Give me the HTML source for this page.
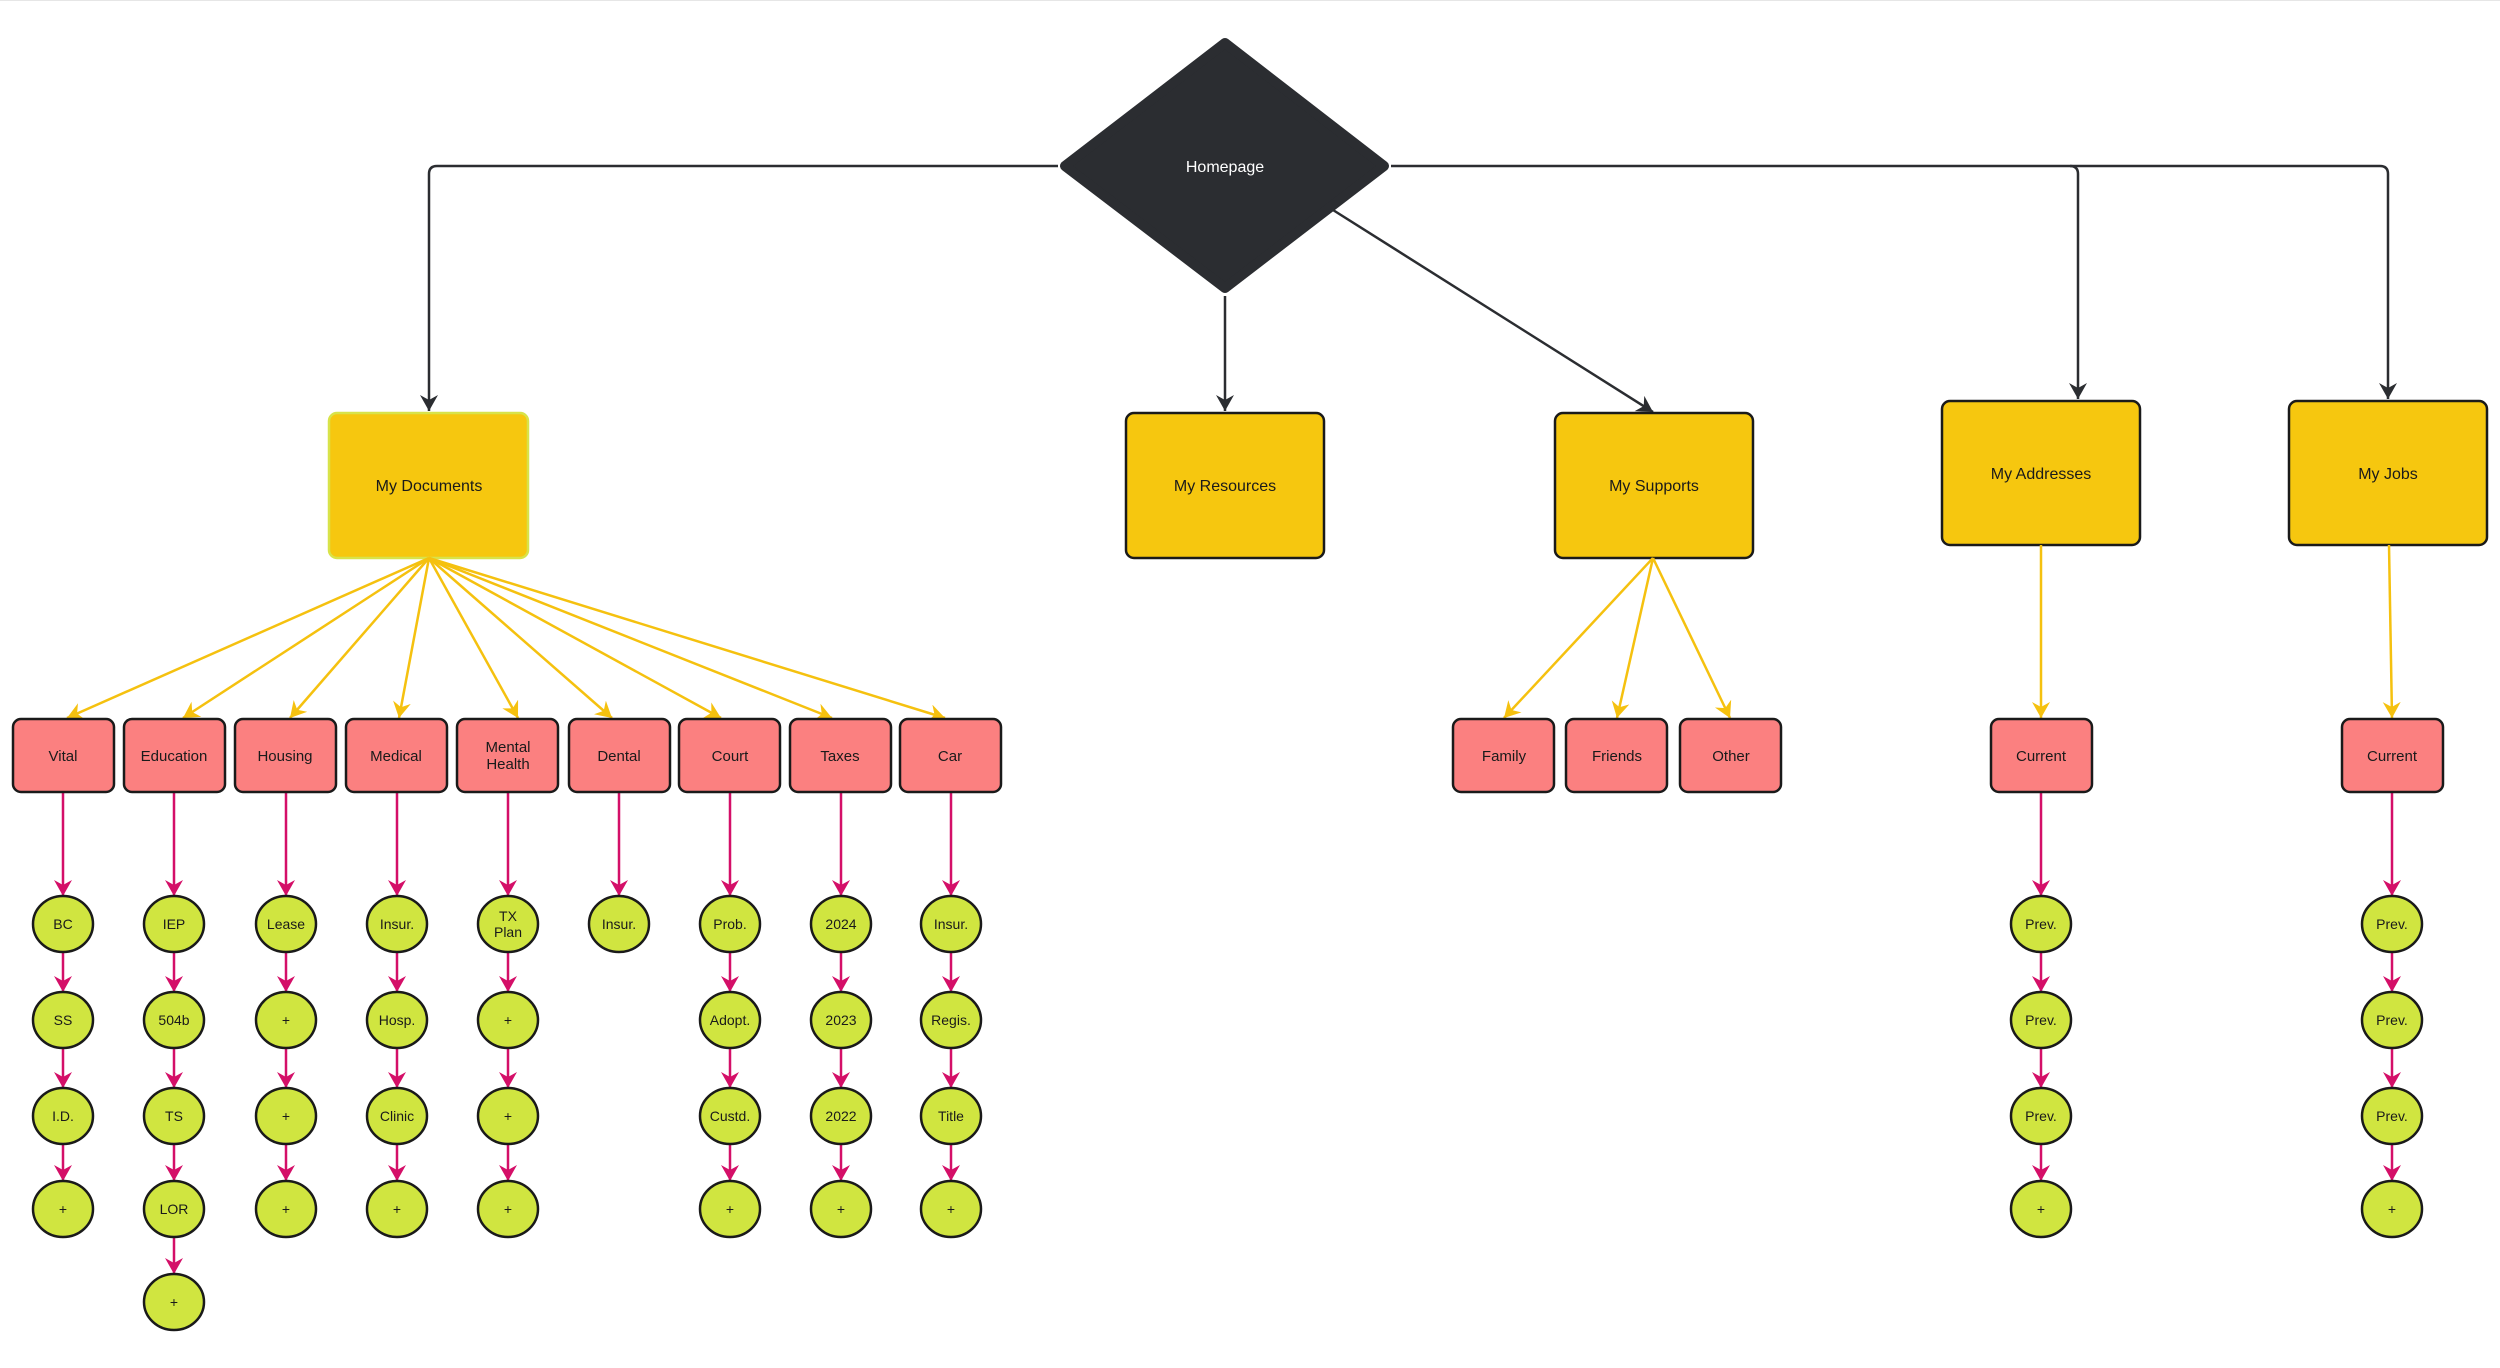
<!DOCTYPE html>
<html><head><meta charset="utf-8"><style>
html,body{margin:0;padding:0;background:#fff;}
svg{display:block;font-family:"Liberation Sans",Arial,sans-serif;}
</style></head><body>
<svg width="2500" height="1368" viewBox="0 0 2500 1368" xmlns="http://www.w3.org/2000/svg">
<defs>
<marker id="ak" markerUnits="userSpaceOnUse" markerWidth="20" markerHeight="20" refX="16" refY="9" orient="auto"><path d="M16,9 L0,0 L5,9 L0,18 Z" fill="#2b2d31"/></marker>
<marker id="ay" markerUnits="userSpaceOnUse" markerWidth="20" markerHeight="20" refX="16" refY="9" orient="auto"><path d="M16,9 L0,0 L5,9 L0,18 Z" fill="#f5c10f"/></marker>
<marker id="ap" markerUnits="userSpaceOnUse" markerWidth="20" markerHeight="20" refX="16" refY="9" orient="auto"><path d="M16,9 L0,0 L5,9 L0,18 Z" fill="#d40f68"/></marker>
</defs>
<line x1="0" y1="0.5" x2="2500" y2="0.5" stroke="#e6e6e6" stroke-width="1"/>
<!-- black connectors -->
<g fill="none" stroke="#2b2d31" stroke-width="2.5">
<path d="M1058,166 L437,166 Q429,166 429,174 L429,411" marker-end="url(#ak)"/>
<path d="M1225,296 L1225,411" marker-end="url(#ak)"/>
<path d="M1333,210 L1653,412" marker-end="url(#ak)"/>
<path d="M1391,166 L2070,166 Q2078,166 2078,174 L2078,399" marker-end="url(#ak)"/>
<path d="M2070,166 L2380,166 Q2388,166 2388,174 L2388,399" marker-end="url(#ak)"/>
</g>
<!-- diamond -->
<polygon points="1225,43 1384,166 1225,288 1065,166" fill="#2b2d31" stroke="#2b2d31" stroke-width="10" stroke-linejoin="round"/>
<text x="1225" y="172" fill="#fff" font-size="16" text-anchor="middle">Homepage</text>
<!-- yellow boxes -->
<g stroke-width="2.5">
<rect x="329" y="413" width="199" height="145" rx="8" fill="#f6c70f" stroke="#d8e34a"/>
<rect x="1126" y="413" width="198" height="145" rx="8" fill="#f6c70f" stroke="#1a1a1a"/>
<rect x="1555" y="413" width="198" height="145" rx="8" fill="#f6c70f" stroke="#1a1a1a"/>
<rect x="1942" y="401" width="198" height="144" rx="8" fill="#f6c70f" stroke="#1a1a1a"/>
<rect x="2289" y="401" width="198" height="144" rx="8" fill="#f6c70f" stroke="#1a1a1a"/>
</g>
<g font-size="16" fill="#1a1a1a" text-anchor="middle">
<text x="429" y="491">My Documents</text>
<text x="1225" y="491">My Resources</text>
<text x="1654" y="491">My Supports</text>
<text x="2041" y="479">My Addresses</text>
<text x="2388" y="479">My Jobs</text>
</g>
<!-- yellow connectors -->
<g stroke="#f5c10f" stroke-width="2.5" fill="none">
<line x1="429" y1="558" x2="67" y2="718" marker-end="url(#ay)"/>
<line x1="429" y1="558" x2="183" y2="718" marker-end="url(#ay)"/>
<line x1="429" y1="558" x2="290" y2="718" marker-end="url(#ay)"/>
<line x1="429" y1="558" x2="399" y2="718" marker-end="url(#ay)"/>
<line x1="429" y1="558" x2="518" y2="718" marker-end="url(#ay)"/>
<line x1="429" y1="558" x2="612" y2="718" marker-end="url(#ay)"/>
<line x1="429" y1="558" x2="721" y2="718" marker-end="url(#ay)"/>
<line x1="429" y1="558" x2="832" y2="718" marker-end="url(#ay)"/>
<line x1="429" y1="558" x2="945" y2="718" marker-end="url(#ay)"/>
<line x1="1653" y1="558" x2="1504" y2="718" marker-end="url(#ay)"/>
<line x1="1653" y1="558" x2="1617" y2="718" marker-end="url(#ay)"/>
<line x1="1653" y1="558" x2="1730" y2="718" marker-end="url(#ay)"/>
<line x1="2041" y1="545" x2="2041" y2="718" marker-end="url(#ay)"/>
<line x1="2389" y1="545" x2="2392" y2="718" marker-end="url(#ay)"/>
</g>
<!-- pink connectors -->
<g stroke="#d40f68" stroke-width="2.5" fill="none">
<line x1="63" y1="792" x2="63" y2="896" marker-end="url(#ap)"/>
<line x1="63" y1="952" x2="63" y2="992" marker-end="url(#ap)"/>
<line x1="63" y1="1048" x2="63" y2="1088" marker-end="url(#ap)"/>
<line x1="63" y1="1144" x2="63" y2="1181" marker-end="url(#ap)"/>
<line x1="174" y1="792" x2="174" y2="896" marker-end="url(#ap)"/>
<line x1="174" y1="952" x2="174" y2="992" marker-end="url(#ap)"/>
<line x1="174" y1="1048" x2="174" y2="1088" marker-end="url(#ap)"/>
<line x1="174" y1="1144" x2="174" y2="1181" marker-end="url(#ap)"/>
<line x1="174" y1="1237" x2="174" y2="1274" marker-end="url(#ap)"/>
<line x1="286" y1="792" x2="286" y2="896" marker-end="url(#ap)"/>
<line x1="286" y1="952" x2="286" y2="992" marker-end="url(#ap)"/>
<line x1="286" y1="1048" x2="286" y2="1088" marker-end="url(#ap)"/>
<line x1="286" y1="1144" x2="286" y2="1181" marker-end="url(#ap)"/>
<line x1="397" y1="792" x2="397" y2="896" marker-end="url(#ap)"/>
<line x1="397" y1="952" x2="397" y2="992" marker-end="url(#ap)"/>
<line x1="397" y1="1048" x2="397" y2="1088" marker-end="url(#ap)"/>
<line x1="397" y1="1144" x2="397" y2="1181" marker-end="url(#ap)"/>
<line x1="508" y1="792" x2="508" y2="896" marker-end="url(#ap)"/>
<line x1="508" y1="952" x2="508" y2="992" marker-end="url(#ap)"/>
<line x1="508" y1="1048" x2="508" y2="1088" marker-end="url(#ap)"/>
<line x1="508" y1="1144" x2="508" y2="1181" marker-end="url(#ap)"/>
<line x1="619" y1="792" x2="619" y2="896" marker-end="url(#ap)"/>
<line x1="730" y1="792" x2="730" y2="896" marker-end="url(#ap)"/>
<line x1="730" y1="952" x2="730" y2="992" marker-end="url(#ap)"/>
<line x1="730" y1="1048" x2="730" y2="1088" marker-end="url(#ap)"/>
<line x1="730" y1="1144" x2="730" y2="1181" marker-end="url(#ap)"/>
<line x1="841" y1="792" x2="841" y2="896" marker-end="url(#ap)"/>
<line x1="841" y1="952" x2="841" y2="992" marker-end="url(#ap)"/>
<line x1="841" y1="1048" x2="841" y2="1088" marker-end="url(#ap)"/>
<line x1="841" y1="1144" x2="841" y2="1181" marker-end="url(#ap)"/>
<line x1="951" y1="792" x2="951" y2="896" marker-end="url(#ap)"/>
<line x1="951" y1="952" x2="951" y2="992" marker-end="url(#ap)"/>
<line x1="951" y1="1048" x2="951" y2="1088" marker-end="url(#ap)"/>
<line x1="951" y1="1144" x2="951" y2="1181" marker-end="url(#ap)"/>
<line x1="2041" y1="792" x2="2041" y2="896" marker-end="url(#ap)"/>
<line x1="2041" y1="952" x2="2041" y2="992" marker-end="url(#ap)"/>
<line x1="2041" y1="1048" x2="2041" y2="1088" marker-end="url(#ap)"/>
<line x1="2041" y1="1144" x2="2041" y2="1181" marker-end="url(#ap)"/>
<line x1="2392" y1="792" x2="2392" y2="896" marker-end="url(#ap)"/>
<line x1="2392" y1="952" x2="2392" y2="992" marker-end="url(#ap)"/>
<line x1="2392" y1="1048" x2="2392" y2="1088" marker-end="url(#ap)"/>
<line x1="2392" y1="1144" x2="2392" y2="1181" marker-end="url(#ap)"/>
</g>
<!-- pink boxes -->
<g fill="#fb8080" stroke="#1a1a1a" stroke-width="2.5">
<rect x="13" y="719" width="101" height="73" rx="8"/>
<rect x="124" y="719" width="101" height="73" rx="8"/>
<rect x="235" y="719" width="101" height="73" rx="8"/>
<rect x="346" y="719" width="101" height="73" rx="8"/>
<rect x="457" y="719" width="101" height="73" rx="8"/>
<rect x="569" y="719" width="101" height="73" rx="8"/>
<rect x="679" y="719" width="101" height="73" rx="8"/>
<rect x="790" y="719" width="101" height="73" rx="8"/>
<rect x="900" y="719" width="101" height="73" rx="8"/>
<rect x="1453" y="719" width="101" height="73" rx="8"/>
<rect x="1566" y="719" width="101" height="73" rx="8"/>
<rect x="1680" y="719" width="101" height="73" rx="8"/>
<rect x="1991" y="719" width="101" height="73" rx="8"/>
<rect x="2342" y="719" width="101" height="73" rx="8"/>
</g>
<g font-size="15" fill="#1a1a1a" text-anchor="middle">
<text x="63" y="761">Vital</text>
<text x="174" y="761">Education</text>
<text x="285" y="761">Housing</text>
<text x="396" y="761">Medical</text>
<text x="508" y="752">Mental</text>
<text x="508" y="769">Health</text>
<text x="619" y="761">Dental</text>
<text x="730" y="761">Court</text>
<text x="840" y="761">Taxes</text>
<text x="950" y="761">Car</text>
<text x="1504" y="761">Family</text>
<text x="1617" y="761">Friends</text>
<text x="1731" y="761">Other</text>
<text x="2041" y="761">Current</text>
<text x="2392" y="761">Current</text>
</g>
<!-- circles -->
<g fill="#d0e540" stroke="#1a1a1a" stroke-width="2.5">
<ellipse cx="63" cy="924" rx="30" ry="28"/><ellipse cx="63" cy="1020" rx="30" ry="28"/><ellipse cx="63" cy="1116" rx="30" ry="28"/><ellipse cx="63" cy="1209" rx="30" ry="28"/>
<ellipse cx="174" cy="924" rx="30" ry="28"/><ellipse cx="174" cy="1020" rx="30" ry="28"/><ellipse cx="174" cy="1116" rx="30" ry="28"/><ellipse cx="174" cy="1209" rx="30" ry="28"/><ellipse cx="174" cy="1302" rx="30" ry="28"/>
<ellipse cx="286" cy="924" rx="30" ry="28"/><ellipse cx="286" cy="1020" rx="30" ry="28"/><ellipse cx="286" cy="1116" rx="30" ry="28"/><ellipse cx="286" cy="1209" rx="30" ry="28"/>
<ellipse cx="397" cy="924" rx="30" ry="28"/><ellipse cx="397" cy="1020" rx="30" ry="28"/><ellipse cx="397" cy="1116" rx="30" ry="28"/><ellipse cx="397" cy="1209" rx="30" ry="28"/>
<ellipse cx="508" cy="924" rx="30" ry="28"/><ellipse cx="508" cy="1020" rx="30" ry="28"/><ellipse cx="508" cy="1116" rx="30" ry="28"/><ellipse cx="508" cy="1209" rx="30" ry="28"/>
<ellipse cx="619" cy="924" rx="30" ry="28"/>
<ellipse cx="730" cy="924" rx="30" ry="28"/><ellipse cx="730" cy="1020" rx="30" ry="28"/><ellipse cx="730" cy="1116" rx="30" ry="28"/><ellipse cx="730" cy="1209" rx="30" ry="28"/>
<ellipse cx="841" cy="924" rx="30" ry="28"/><ellipse cx="841" cy="1020" rx="30" ry="28"/><ellipse cx="841" cy="1116" rx="30" ry="28"/><ellipse cx="841" cy="1209" rx="30" ry="28"/>
<ellipse cx="951" cy="924" rx="30" ry="28"/><ellipse cx="951" cy="1020" rx="30" ry="28"/><ellipse cx="951" cy="1116" rx="30" ry="28"/><ellipse cx="951" cy="1209" rx="30" ry="28"/>
<ellipse cx="2041" cy="924" rx="30" ry="28"/><ellipse cx="2041" cy="1020" rx="30" ry="28"/><ellipse cx="2041" cy="1116" rx="30" ry="28"/><ellipse cx="2041" cy="1209" rx="30" ry="28"/>
<ellipse cx="2392" cy="924" rx="30" ry="28"/><ellipse cx="2392" cy="1020" rx="30" ry="28"/><ellipse cx="2392" cy="1116" rx="30" ry="28"/><ellipse cx="2392" cy="1209" rx="30" ry="28"/>
</g>
<g font-size="14" fill="#1a1a1a" text-anchor="middle">
<text x="63" y="929">BC</text><text x="63" y="1025">SS</text><text x="63" y="1121">I.D.</text><text x="63" y="1214">+</text>
<text x="174" y="929">IEP</text><text x="174" y="1025">504b</text><text x="174" y="1121">TS</text><text x="174" y="1214">LOR</text><text x="174" y="1307">+</text>
<text x="286" y="929">Lease</text><text x="286" y="1025">+</text><text x="286" y="1121">+</text><text x="286" y="1214">+</text>
<text x="397" y="929">Insur.</text><text x="397" y="1025">Hosp.</text><text x="397" y="1121">Clinic</text><text x="397" y="1214">+</text>
<text x="508" y="921">TX</text><text x="508" y="937">Plan</text><text x="508" y="1025">+</text><text x="508" y="1121">+</text><text x="508" y="1214">+</text>
<text x="619" y="929">Insur.</text>
<text x="730" y="929">Prob.</text><text x="730" y="1025">Adopt.</text><text x="730" y="1121">Custd.</text><text x="730" y="1214">+</text>
<text x="841" y="929">2024</text><text x="841" y="1025">2023</text><text x="841" y="1121">2022</text><text x="841" y="1214">+</text>
<text x="951" y="929">Insur.</text><text x="951" y="1025">Regis.</text><text x="951" y="1121">Title</text><text x="951" y="1214">+</text>
<text x="2041" y="929">Prev.</text><text x="2041" y="1025">Prev.</text><text x="2041" y="1121">Prev.</text><text x="2041" y="1214">+</text>
<text x="2392" y="929">Prev.</text><text x="2392" y="1025">Prev.</text><text x="2392" y="1121">Prev.</text><text x="2392" y="1214">+</text>
</g>
</svg>
</body></html>
